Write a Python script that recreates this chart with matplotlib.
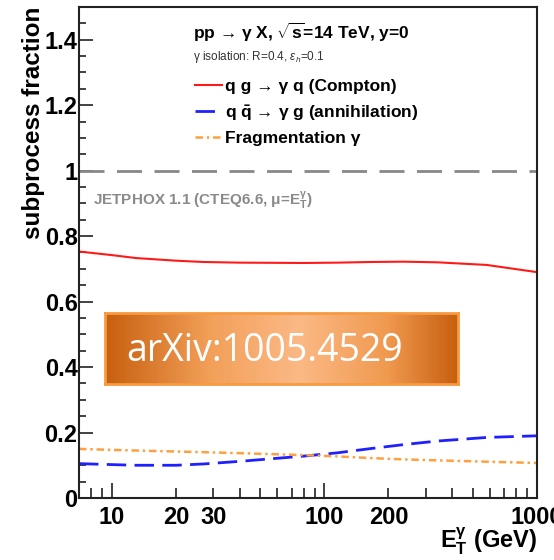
import matplotlib
matplotlib.use("Agg")
import matplotlib.pyplot as plt
import numpy as np
from matplotlib.colors import LinearSegmentedColormap
from matplotlib.ticker import FixedLocator

plt.rcParams['font.family'] = ['Liberation Sans', 'DejaVu Sans']
plt.rcParams['mathtext.fontset'] = 'custom'
plt.rcParams['mathtext.rm'] = 'Liberation Sans'
plt.rcParams['mathtext.bf'] = 'Liberation Sans:bold'
plt.rcParams['mathtext.it'] = 'Liberation Sans:italic'

# photon transverse energy (GeV)
et = [7, 10, 13, 20, 27, 40, 80, 115, 165, 235, 340, 580, 1000]
compton = [0.753, 0.742, 0.733, 0.725, 0.721, 0.719, 0.718, 0.719, 0.721, 0.722, 0.720, 0.712, 0.690]
annihilation = [0.105, 0.102, 0.100, 0.100, 0.104, 0.112, 0.128, 0.138, 0.151, 0.163, 0.174, 0.185, 0.190]
fragmentation = [0.150, 0.147, 0.145, 0.142, 0.140, 0.137, 0.131, 0.127, 0.122, 0.118, 0.115, 0.111, 0.107]

yticks = [0, 0.2, 0.4, 0.6, 0.8, 1.0, 1.2, 1.4]
ytick_labels = ['0', '0.2', '0.4', '0.6', '0.8', '1', '1.2', '1.4']
xticks_major = [10, 100, 1000]
xticks_minor = [8, 9, 20, 30, 40, 50, 60, 70, 80, 90,
                200, 300, 400, 500, 600, 700, 800, 900]
labelled_minor = [20, 30, 200]

fig = plt.figure(figsize=(5.54, 5.6), dpi=100)
ax = fig.add_axes([79 / 554, 62 / 560, 458 / 554, 491 / 560])

ax.axhline(1.0, color='#888888', lw=2.0, dashes=(9, 4.5))
l1, = ax.plot(et, compton, color='#ff1a1a', lw=1.5)
l2, = ax.plot(et, annihilation, color='#2020ff', lw=2.0, dashes=(7, 3))
l3, = ax.plot(et, fragmentation, color='#ffa040', lw=1.8, dashes=(3, 1.5, 1, 1.5))

ax.set_xscale('log')
ax.set_xlim(7, 1000)
ax.set_ylim(0, 1.5)

ax.set_yticks(yticks)
ax.set_yticklabels(ytick_labels)
ax.yaxis.set_minor_locator(FixedLocator(np.arange(0.05, 1.5, 0.05)))
ax.xaxis.set_major_locator(FixedLocator(xticks_major))
ax.xaxis.set_minor_locator(FixedLocator(xticks_minor))
ax.set_xticklabels([str(v) for v in xticks_major])
ax.xaxis.set_minor_formatter(plt.FuncFormatter(
    lambda v, p: str(int(round(v))) if int(round(v)) in labelled_minor else ''))

for side in ['left', 'bottom', 'right', 'top']:
    ax.spines[side].set_linewidth(1.5)
    ax.spines[side].set_color('#222222')

ax.tick_params(which='both', direction='in', top=False, right=False, color='#222222', width=1.2)
ax.tick_params(axis='y', which='major', length=10, pad=1, labelsize=17)
ax.tick_params(axis='y', which='minor', length=5)
ax.tick_params(axis='x', which='major', length=11, pad=6, labelsize=17)
ax.tick_params(axis='x', which='minor', length=7, pad=6, labelsize=17)
for lab in ax.get_xticklabels(which='both') + ax.get_yticklabels():
    lab.set_fontweight('bold')

ax.set_ylabel('subprocess fraction', fontsize=17.5, fontweight='bold', loc='top', labelpad=0)
ax.set_xlabel(r'$\mathbf{E_T^{\gamma}}$ (GeV)', fontsize=17, fontweight='bold', loc='right', labelpad=-3)

ax.text(114 / 458, 1 - 25 / 491, r'pp → γ X, $\mathbf{\sqrt{s}}$=14 TeV, y=0', transform=ax.transAxes,
        fontsize=12.5, fontweight='bold', va='center')
ax.text(114 / 458, 1 - 50 / 491, r'γ isolation: R=0.4, $\epsilon_h$=0.1', transform=ax.transAxes,
        fontsize=8.5, color='#333333', va='center')
ax.legend([l1, l2, l3],
          ['q g → γ q (Compton)', r'q $\mathbf{\bar{q}}$ → γ g (annihilation)', 'Fragmentation γ'],
          loc='upper left', bbox_to_anchor=(116 / 458, 1 - 72 / 491), frameon=False,
          prop={'weight': 'bold', 'size': 12.5}, handlelength=1.55, handletextpad=0.2,
          labelspacing=0.5, borderaxespad=0, borderpad=0)
ax.text(14 / 458, 1 - 193 / 491, r'JETPHOX 1.1 (CTEQ6.6, μ=$\mathbf{E_T^{\gamma}}$)', transform=ax.transAxes,
        fontsize=11, fontweight='bold', color='#8a8a8a', va='center')

# arXiv banner
bx = fig.add_axes([105 / 554, (560 - 384) / 560, 353 / 554, 71 / 560])
cmap = LinearSegmentedColormap.from_list(
    'banner', [(0, '#c8600f'), (0.3, '#f3a05a'), (0.55, '#fbb985'), (0.8, '#f09a50'), (1, '#c8600f')])
gx = np.linspace(0, 1, 300)
gy = np.linspace(0, 1, 60)
gxx, gyy = np.meshgrid(gx, gy)
bx.imshow(gxx, cmap=cmap, aspect='auto', extent=[0, 1, 0, 1])
bx.set_xlim(0, 1)
bx.set_ylim(0, 1)
bx.set_xticks([])
bx.set_yticks([])
for s in bx.spines.values():
    s.set_color('#f79a40')
    s.set_linewidth(2)
bx.text(0.06, 0.47, 'arXiv:1005.4529', fontsize=27, color='white', family='Open Sans',
        va='center', ha='left')

fig.savefig('out.png', dpi=100)
